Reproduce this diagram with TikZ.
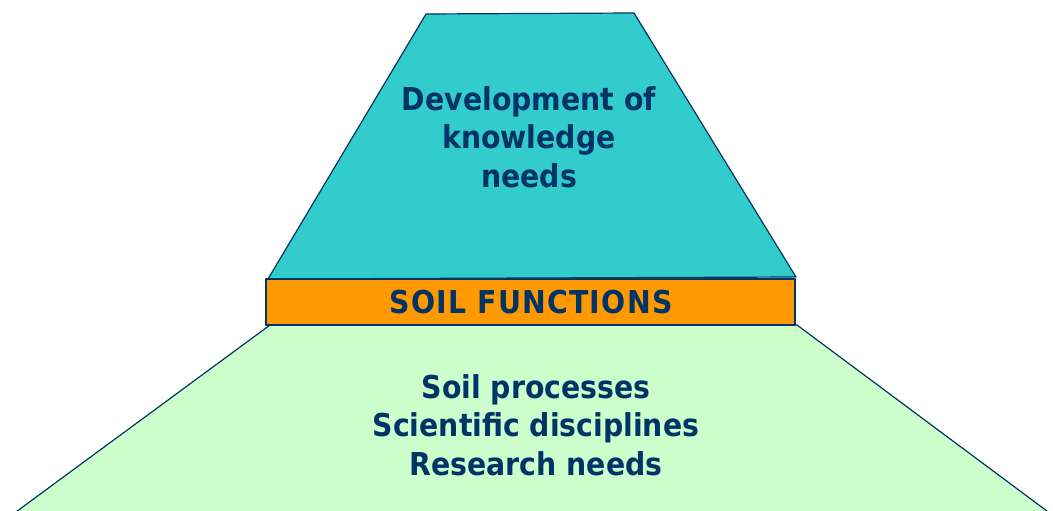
\documentclass[tikz,border=0pt]{standalone}
\usepackage{fontspec}
\setmainfont{DejaVu Sans Condensed}[BoldFont={DejaVu Sans Condensed Bold}]
\usepackage{tikz}

\definecolor{navy}{HTML}{003366}
\definecolor{teal}{HTML}{33CCCC}
\definecolor{amber}{HTML}{FF9900}
\definecolor{mint}{HTML}{CCFFCC}

\tikzset{
  layer/.style={draw=navy, line width=1.2pt, line join=round},
  label/.style={text=navy, font=\bfseries\fontsize{31.5}{38.5}\selectfont, align=center}
}

\begin{document}
\begin{tikzpicture}[x=1pt, y=-1pt]
\useasboundingbox (0,0) rectangle (1053,511);
\draw [layer, fill=mint] (270,325) -- (797,325) -- (1059,520) -- (5,520) -- cycle;
\draw [layer, fill=teal] (426,14) -- (634,13) -- (796,277) -- (268,279) -- cycle;
\draw [layer, fill=amber] (266,279) rectangle (795,325);

\node [label] (top) at (529,137) {Development of\\knowledge\\needs};
\node [label] (mid) at (531,302) {\addfontfeature{LetterSpace=4}SOIL FUNCTIONS};
\node [label] (low) at (536,425) {Soil processes\\Scientific disciplines\\Research needs};
\end{tikzpicture}
\end{document}
